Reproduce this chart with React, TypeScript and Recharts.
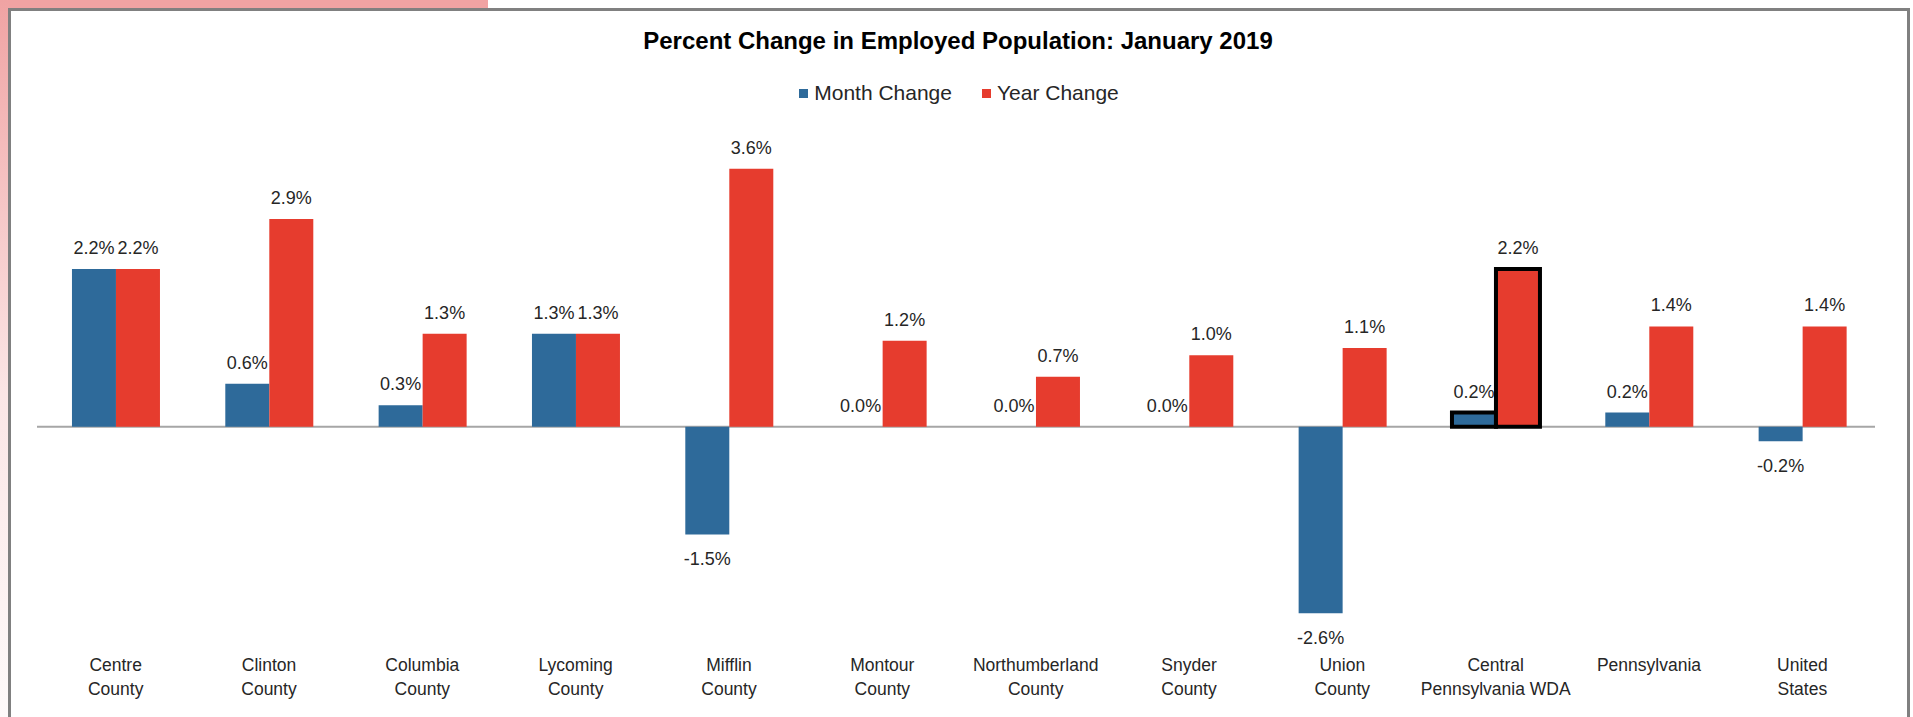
import React from 'react'
import { BarChart, Bar, XAxis, YAxis, Legend, LabelList, Cell, CartesianGrid } from 'recharts'

const categories = [
  'Centre\nCounty',
  'Clinton\nCounty',
  'Columbia\nCounty',
  'Lycoming\nCounty',
  'Mifflin\nCounty',
  'Montour\nCounty',
  'Northumberland\nCounty',
  'Snyder\nCounty',
  'Union\nCounty',
  'Central\nPennsylvania WDA',
  'Pennsylvania',
  'United\nStates',
]
const monthChange = [2.2, 0.6, 0.3, 1.3, -1.5, 0.0, 0.0, 0.0, -2.6, 0.2, 0.2, -0.2]
const yearChange = [2.2, 2.9, 1.3, 1.3, 3.6, 1.2, 0.7, 1.0, 1.1, 2.2, 1.4, 1.4]
const highlighted = 'Central\nPennsylvania WDA'

const BLUE = '#2e6a9a'
const RED = '#e63c2e'
const FONT = '"Liberation Sans", Arial, sans-serif'

const W = 1913
const H = 717
const MARGIN = { top: 140, right: 34, left: 39, bottom: 15 }

const pct = (v: number) => `${v.toFixed(1)}%`

const data = categories.map((name, i) => ({
  name,
  month: monthChange[i],
  year: yearChange[i],
  monthLabel: pct(monthChange[i]),
  yearLabel: pct(yearChange[i]),
}))

function CategoryTick(props: any) {
  const { x, y, payload } = props
  const lines = String(payload.value).split('\n')
  return (
    <text x={x} y={y} textAnchor="middle" fontFamily={FONT} fontSize={17.5} fill="#262626">
      {lines.map((l, i) => (
        <tspan key={i} x={x} dy={i === 0 ? 27 : 24}>
          {l}
        </tspan>
      ))}
    </text>
  )
}

function ValueLabel(props: any) {
  const vb = props.viewBox ?? props
  const text = String(props.value)
  const x = vb.x + vb.width / 2
  const top = Math.min(vb.y, vb.y + vb.height)
  const bottom = Math.max(vb.y, vb.y + vb.height)
  const y = text.startsWith('-') ? bottom + 31 : top - 15
  return (
    <text x={x} y={y} textAnchor="middle" fontFamily={FONT} fontSize={18} fill="#262626">
      {text}
    </text>
  )
}

function LegendContent() {
  const items = [
    { label: 'Month Change', color: BLUE },
    { label: 'Year Change', color: RED },
  ]
  return (
    <div style={{ display: 'flex', justifyContent: 'center', gap: 30, fontFamily: FONT, fontSize: 21, color: '#262626' }}>
      {items.map((it) => (
        <div key={it.label} style={{ display: 'flex', alignItems: 'center' }}>
          <span style={{ width: 9, height: 9, background: it.color, marginRight: 6, display: 'inline-block' }} />
          <span>{it.label}</span>
        </div>
      ))}
    </div>
  )
}

export default function App() {
  return (
    <div style={{ position: 'absolute', left: 0, top: 0, width: W, height: H, overflow: 'hidden', background: '#fff' }}>
      <div style={{ position: 'absolute', left: 0, top: 0, width: 488, height: 10, background: '#f0a3a3' }} />
      <div
        style={{
          position: 'absolute',
          left: 0,
          top: 0,
          width: 9,
          height: H,
          background: 'linear-gradient(#f0a3a3, #fbe6e6 55%, #fefafa)',
        }}
      />
      <div
        style={{
          position: 'absolute',
          left: 8,
          top: 8,
          width: 1902,
          height: 740,
          border: '3px solid #808080',
          background: '#fff',
          boxSizing: 'border-box',
        }}
      />
      <div
        style={{
          position: 'absolute',
          left: 0,
          top: 27,
          width: 1916,
          textAlign: 'center',
          fontFamily: FONT,
          fontWeight: 'bold',
          fontSize: 24,
          color: '#000',
        }}
      >
        Percent Change in Employed Population: January 2019
      </div>
      <div style={{ position: 'absolute', left: 0, top: 0 }}>
        <BarChart width={W} height={H} data={data} margin={MARGIN} barCategoryGap="21.5%" barGap={0}>
          <CartesianGrid
            vertical={false}
            horizontalValues={[0]}
            x={MARGIN.left - 2}
            width={W - MARGIN.left - MARGIN.right - 2}
            stroke="#a6a6a6"
            strokeWidth={2}
          />
          <XAxis
            dataKey="name"
            axisLine={false}
            tickLine={false}
            tickSize={0}
            interval={0}
            height={60}
            tick={<CategoryTick />}
          />
          <YAxis hide domain={[-3, 4]} allowDataOverflow />
          <Legend
            layout="horizontal"
            verticalAlign="middle"
            align="center"
            content={<LegendContent />}
            wrapperStyle={{ top: 81, left: 0, width: 1918 }}
          />
          <Bar
            dataKey="month"
            name="Month Change"
            fill={BLUE}
            minPointSize={(v: number) => (v === 0 ? 0.01 : 0)}
            isAnimationActive={false}
          >
            {data.map((d, i) => (
              <Cell
                key={`m-${i}`}
                fill={BLUE}
                stroke={d.name === highlighted ? '#000' : 'none'}
                strokeWidth={d.name === highlighted ? 4 : 0}
              />
            ))}
            <LabelList dataKey="monthLabel" content={<ValueLabel />} />
          </Bar>
          <Bar dataKey="year" name="Year Change" fill={RED} isAnimationActive={false}>
            {data.map((d, i) => (
              <Cell
                key={`y-${i}`}
                fill={RED}
                stroke={d.name === highlighted ? '#000' : 'none'}
                strokeWidth={d.name === highlighted ? 4 : 0}
              />
            ))}
            <LabelList dataKey="yearLabel" content={<ValueLabel />} />
          </Bar>
        </BarChart>
      </div>
    </div>
  )
}
